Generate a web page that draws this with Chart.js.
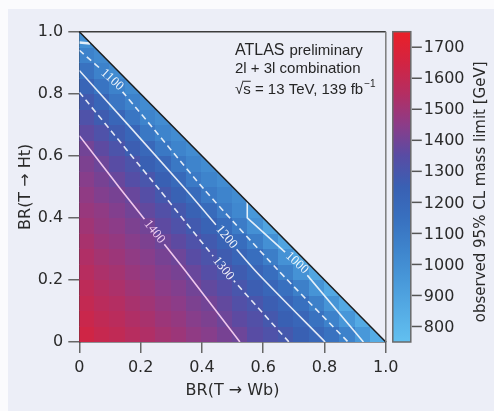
<!DOCTYPE html>
<html lang="en">
<head>
  <meta charset="UTF-8" />
  <title>T quark mass limits vs branching ratios</title>
  <script src="https://cdn.jsdelivr.net/npm/chart.js"></script>
  <style>
    html, body {
      margin: 0;
      padding: 0;
      background: #fbfbfd;
    }
    .panel {
      position: absolute;
      left: 8px;
      top: 9px;
      width: 486px;
      height: 402px;
      background: #eceef7;
    }
  </style>
</head>
<body>
  <div class="panel"><canvas id="limitChart"></canvas></div>

  <script>
    // Axis ticks
    const xTicks = [0, 0.2, 0.4, 0.6, 0.8, 1.0];
    const xTickLabels = ['0', '0.2', '0.4', '0.6', '0.8', '1.0'];
    const yTicks = [0, 0.2, 0.4, 0.6, 0.8, 1.0];
    const yTickLabels = ['0', '0.2', '0.4', '0.6', '0.8', '1.0'];
    const colorbarTicks = [800, 900, 1000, 1100, 1200, 1300, 1400, 1500, 1600, 1700];

    // Observed mass limit [GeV] in 0.05 x 0.05 BR cells.
    // Row j starts at BR(Ht) = 0.05*j, column i at BR(Wb) = 0.05*i.
    const cellSize = 0.05;
    const massLimits = [
      [1640, 1610, 1590, 1560, 1540, 1510, 1490, 1460, 1440, 1410, 1390, 1350, 1320, 1290, 1250, 1200, 1140, 1060, 950, 850],
      [1620, 1590, 1570, 1540, 1520, 1490, 1470, 1440, 1420, 1390, 1360, 1330, 1290, 1250, 1210, 1140, 1060, 960, 860],
      [1600, 1570, 1550, 1520, 1500, 1470, 1450, 1420, 1400, 1370, 1330, 1300, 1260, 1210, 1150, 1070, 970, 870],
      [1580, 1550, 1530, 1500, 1480, 1450, 1430, 1400, 1370, 1340, 1300, 1260, 1210, 1150, 1070, 970, 870],
      [1560, 1530, 1510, 1480, 1460, 1430, 1410, 1380, 1340, 1310, 1270, 1220, 1160, 1070, 980, 880],
      [1540, 1510, 1490, 1460, 1440, 1410, 1390, 1350, 1310, 1270, 1220, 1160, 1080, 980, 880],
      [1520, 1490, 1470, 1440, 1420, 1390, 1360, 1320, 1280, 1230, 1170, 1080, 990, 890],
      [1500, 1470, 1450, 1420, 1400, 1360, 1320, 1280, 1230, 1170, 1090, 990, 890],
      [1480, 1460, 1430, 1400, 1370, 1330, 1290, 1240, 1180, 1090, 1030, 950],
      [1460, 1430, 1410, 1380, 1340, 1290, 1240, 1180, 1100, 1050, 1010],
      [1440, 1410, 1380, 1340, 1300, 1250, 1190, 1100, 1050, 1010],
      [1420, 1390, 1350, 1310, 1250, 1200, 1110, 1050, 1010],
      [1400, 1360, 1310, 1260, 1200, 1110, 1050, 1010],
      [1360, 1320, 1270, 1210, 1110, 1050, 1010],
      [1320, 1270, 1210, 1120, 1050, 1010],
      [1280, 1220, 1120, 1060, 1010],
      [1220, 1130, 1060, 1010],
      [1140, 1060, 1010],
      [1060, 1020],
      [990]
    ];

    // Iso-limit contours, [BR(Wb), BR(Ht)]
    const contour1400 = [[0, 0.665], [0.137, 0.49], [0.344, 0.232], [0.524, 0]];
    const contour1300 = [[0, 0.805], [0.262, 0.49], [0.474, 0.232], [0.684, 0]];
    const contour1200 = [[0, 0.875], [0.349, 0.49], [0.572, 0.232], [0.802, 0]];
    const contour1100 = [[0, 0.94], [0.107, 0.845], [0.409, 0.49], [0.648, 0.232], [0.877, 0]];
    const contour1000Top = [[0, 0.965], [0.035, 0.962]];
    const contour1000 = [[0.548, 0.452], [0.548, 0.40], [0.71, 0.255], [0.927, 0]];

    // Inline contour labels: text, contour, BR(Wb) of the label centre
    const contourLabels = [
      { text: '1100', line: contour1100, at: 0.107, color: 'rgba(255,255,255,0.92)' },
      { text: '1400', line: contour1400, at: 0.245, color: 'rgba(248,212,244,0.95)' },
      { text: '1200', line: contour1200, at: 0.48, color: 'rgba(255,255,255,0.92)' },
      { text: '1300', line: contour1300, at: 0.47, color: 'rgba(255,255,255,0.92)' },
      { text: '1000', line: contour1000, at: 0.71, color: 'rgba(255,255,255,0.92)' }
    ];

    // blue -> purple -> red palette of the limit scale
    const colorStops = [
      [750, [98, 192, 240]],
      [850, [85, 172, 229]],
      [950, [72, 152, 217]],
      [1050, [62, 132, 204]],
      [1150, [56, 112, 191]],
      [1250, [57, 96, 179]],
      [1350, [88, 76, 164]],
      [1450, [140, 60, 136]],
      [1550, [180, 46, 98]],
      [1650, [210, 36, 66]],
      [1750, [234, 32, 40]]
    ];

    function colorFor(v) {
      if (v <= colorStops[0][0]) return 'rgb(' + colorStops[0][1].join(',') + ')';
      for (let k = 1; k < colorStops.length; k++) {
        const [v1, c1] = colorStops[k];
        if (v <= v1) {
          const [v0, c0] = colorStops[k - 1];
          const t = (v - v0) / (v1 - v0);
          const c = c0.map((ch, n) => Math.round(ch + (c1[n] - ch) * t));
          return 'rgb(' + c.join(',') + ')';
        }
      }
      return 'rgb(' + colorStops[colorStops.length - 1][1].join(',') + ')';
    }

    const toPoints = pts => pts.map(p => ({ x: p[0], y: p[1] }));

    const solidWhite = 'rgba(255,255,255,0.85)';
    const lineBase = { showLine: true, pointRadius: 0, borderWidth: 1.6, fill: false };

    // label centre and direction along a contour, in pixels
    function labelPlacement(chart, lab) {
      const { x, y } = chart.scales;
      const pts = lab.line;
      let k = 0;
      while (k < pts.length - 2 && pts[k + 1][0] < lab.at) k++;
      const [x0, y0] = pts[k], [x1, y1] = pts[k + 1];
      const t = (lab.at - x0) / (x1 - x0);
      const px = x.getPixelForValue(lab.at);
      const py = y.getPixelForValue(y0 + (y1 - y0) * t);
      const ang = Math.atan2(y.getPixelForValue(y1) - y.getPixelForValue(y0),
                             x.getPixelForValue(x1) - x.getPixelForValue(x0));
      return { px, py, ang };
    }

    const labelFont = '13px "Liberation Serif"';

    const heatmapPlugin = {
      id: 'heatmap',
      beforeDatasetsDraw(chart) {
        const { ctx, chartArea: a, scales: { x, y } } = chart;

        // cells, clipped to the physical triangle BR(Wb) + BR(Ht) <= 1
        ctx.save();
        ctx.beginPath();
        ctx.moveTo(x.getPixelForValue(0), y.getPixelForValue(0));
        ctx.lineTo(x.getPixelForValue(0), y.getPixelForValue(1));
        ctx.lineTo(x.getPixelForValue(1), y.getPixelForValue(0));
        ctx.closePath();
        ctx.clip();
        massLimits.forEach((row, j) => {
          row.forEach((v, i) => {
            const l = Math.floor(x.getPixelForValue(i * cellSize));
            const r = Math.ceil(x.getPixelForValue((i + 1) * cellSize));
            const t = Math.floor(y.getPixelForValue((j + 1) * cellSize));
            const b = Math.ceil(y.getPixelForValue(j * cellSize));
            ctx.fillStyle = colorFor(v);
            ctx.fillRect(l, t, r - l, b - t);
          });
        });
        ctx.restore();

        // keep the contour lines out from under their labels
        ctx.save();
        ctx.font = labelFont;
        ctx.beginPath();
        ctx.rect(a.left, a.top, a.width, a.height);
        contourLabels.forEach(lab => {
          const { px, py, ang } = labelPlacement(chart, lab);
          const hw = ctx.measureText(lab.text).width / 2 + 3, hh = 5;
          const c = Math.cos(ang), s = Math.sin(ang);
          const corners = [[-hw, -hh], [hw, -hh], [hw, hh], [-hw, hh]];
          corners.forEach(([u, w], n) => {
            const cx = px + u * c - w * s, cy = py + u * s + w * c;
            if (n === 0) ctx.moveTo(cx, cy); else ctx.lineTo(cx, cy);
          });
          ctx.closePath();
        });
        ctx.clip('evenodd');
      },
      afterDatasetsDraw(chart) {
        const { ctx, chartArea: a, scales: { x, y, colorbar } } = chart;
        ctx.restore();

        // contour labels
        ctx.save();
        ctx.font = labelFont;
        ctx.textAlign = 'center';
        ctx.textBaseline = 'middle';
        contourLabels.forEach(lab => {
          const { px, py, ang } = labelPlacement(chart, lab);
          ctx.save();
          ctx.translate(px, py);
          ctx.rotate(ang);
          ctx.fillStyle = lab.color;
          ctx.fillText(lab.text, 0, 0);
          ctx.restore();
        });
        ctx.restore();

        // diagonal edge and frame
        ctx.save();
        ctx.lineWidth = 1.5;
        ctx.strokeStyle = '#1c1c1c';
        ctx.beginPath();
        ctx.moveTo(x.getPixelForValue(0), y.getPixelForValue(1));
        ctx.lineTo(x.getPixelForValue(1), y.getPixelForValue(0));
        ctx.stroke();
        ctx.strokeStyle = '#3c3c3c';
        ctx.beginPath();
        ctx.moveTo(a.left, a.top);
        ctx.lineTo(a.right, a.top);
        ctx.stroke();
        ctx.strokeStyle = '#7c7c7c';
        ctx.beginPath();
        ctx.moveTo(a.right, a.top);
        ctx.lineTo(a.right, a.bottom);
        ctx.stroke();
        ctx.restore();

        // colour bar with its ticks, labels and title
        const barLeft = a.right + 7, barW = 18;
        const top = colorbar.getPixelForValue(colorbar.max);
        const bottom = colorbar.getPixelForValue(colorbar.min);
        const grad = ctx.createLinearGradient(0, bottom, 0, top);
        colorStops.forEach(([v, c]) => {
          grad.addColorStop((v - colorbar.min) / (colorbar.max - colorbar.min), 'rgb(' + c.join(',') + ')');
        });
        ctx.save();
        ctx.fillStyle = grad;
        ctx.fillRect(barLeft, top, barW, bottom - top);
        ctx.lineWidth = 1.5;
        ctx.strokeStyle = '#6a6a6a';
        ctx.strokeRect(barLeft, top, barW, bottom - top);
        ctx.strokeStyle = '#555';
        ctx.fillStyle = '#2a2a2a';
        ctx.font = '16px "DejaVu Sans"';
        ctx.textAlign = 'left';
        ctx.textBaseline = 'middle';
        colorbarTicks.forEach(v => {
          const py = colorbar.getPixelForValue(v);
          ctx.beginPath();
          ctx.moveTo(barLeft + barW + 1, py);
          ctx.lineTo(barLeft + barW + 11, py);
          ctx.stroke();
          ctx.fillText(String(v), barLeft + barW + 13, py + 1);
        });
        ctx.font = '15px "DejaVu Sans"';
        ctx.textAlign = 'center';
        ctx.translate(a.right + 95, (top + bottom) / 2 + 5);
        ctx.rotate(-Math.PI / 2);
        ctx.fillText('observed 95% CL mass limit [GeV]', 0, 0);
        ctx.restore();

        // experiment caption
        ctx.save();
        ctx.fillStyle = '#262626';
        ctx.textBaseline = 'alphabetic';
        const left = x.getPixelForValue(0.508);
        let base = y.getPixelForValue(0.925);
        ctx.font = '16px "Liberation Sans"';
        ctx.fillText('ATLAS', left, base);
        const wAtlas = ctx.measureText('ATLAS').width;
        ctx.font = '15px "Liberation Sans"';
        ctx.fillText('preliminary', left + wAtlas + 5, base);
        base = y.getPixelForValue(0.866);
        ctx.fillText('2l + 3l combination', left, base);
        base = y.getPixelForValue(0.80);
        const root = '\u221A';
        ctx.fillText(root, left, base);
        const wRoot = ctx.measureText(root).width;
        ctx.fillText('s', left + wRoot, base);
        const wS = ctx.measureText('s').width;
        ctx.lineWidth = 1;
        ctx.strokeStyle = '#262626';
        ctx.beginPath();
        ctx.moveTo(left + wRoot - 1, base - 12.5);
        ctx.lineTo(left + wRoot + wS, base - 12.5);
        ctx.stroke();
        const rest = ' = 13 TeV, 139 fb';
        ctx.fillText(rest, left + wRoot + wS, base);
        const wRest = ctx.measureText(rest).width;
        ctx.font = '10px "Liberation Sans"';
        ctx.fillText('\u22121', left + wRoot + wS + wRest + 1, base - 7);
        ctx.restore();
      }
    };

    const tickFont = { family: '"DejaVu Sans"', size: 16 };
    const titleFont = { family: '"DejaVu Sans"', size: 16 };

    new Chart(document.getElementById('limitChart'), {
      type: 'scatter',
      data: {
        datasets: [
          { ...lineBase, data: toPoints(contour1400), borderColor: 'rgba(246,205,240,0.95)', tension: 0.2 },
          { ...lineBase, data: toPoints(contour1300), borderColor: solidWhite, borderDash: [6, 4], tension: 0.2 },
          { ...lineBase, data: toPoints(contour1200), borderColor: solidWhite, tension: 0.2 },
          { ...lineBase, data: toPoints(contour1100), borderColor: solidWhite, borderDash: [6, 4], tension: 0.2 },
          { ...lineBase, data: toPoints(contour1000Top), borderColor: solidWhite, borderWidth: 2.5 },
          { ...lineBase, data: toPoints(contour1000), borderColor: solidWhite }
        ]
      },
      options: {
        responsive: true,
        maintainAspectRatio: false,
        animation: false,
        layout: { padding: { top: 22.7, left: 0, right: 0, bottom: 0 } },
        plugins: {
          legend: { display: false },
          tooltip: { enabled: false }
        },
        scales: {
          x: {
            type: 'linear',
            position: 'bottom',
            min: 0,
            max: 1,
            afterBuildTicks: s => { s.ticks = xTicks.map(v => ({ value: v })); },
            afterFit: s => { s.height = 69; },
            grid: { drawOnChartArea: false, tickLength: 11, color: '#666', lineWidth: 1.5 },
            border: { color: '#333', width: 1.5 },
            ticks: {
              autoSkip: false,
              maxRotation: 0,
              padding: 5,
              color: '#2a2a2a',
              font: tickFont,
              callback: (v, i) => xTickLabels[i]
            },
            title: {
              display: true,
              text: 'BR(T \u2192 Wb)',
              color: '#2a2a2a',
              font: titleFont,
              padding: { top: 0, bottom: 11 }
            }
          },
          y: {
            type: 'linear',
            position: 'left',
            min: 0,
            max: 1,
            afterBuildTicks: s => { s.ticks = yTicks.map(v => ({ value: v })); },
            afterFit: s => { s.width = 71.3; },
            grid: { drawOnChartArea: false, tickLength: 11, color: '#666', lineWidth: 1.5 },
            border: { color: '#333', width: 1.5 },
            ticks: {
              autoSkip: false,
              padding: 5,
              color: '#2a2a2a',
              font: tickFont,
              callback: (v, i) => yTickLabels[i]
            },
            title: {
              display: true,
              text: 'BR(T \u2192 Ht)',
              color: '#2a2a2a',
              font: titleFont,
              padding: { top: 8, bottom: 0 }
            }
          },
          colorbar: {
            type: 'linear',
            position: 'right',
            min: 750,
            max: 1750,
            afterBuildTicks: s => { s.ticks = colorbarTicks.map(v => ({ value: v })); },
            afterFit: s => { s.width = 108.2; },
            grid: { display: false, drawTicks: false, drawOnChartArea: false },
            border: { display: false },
            ticks: { display: false }
          }
        }
      },
      plugins: [heatmapPlugin]
    });
  </script>
</body>
</html>
